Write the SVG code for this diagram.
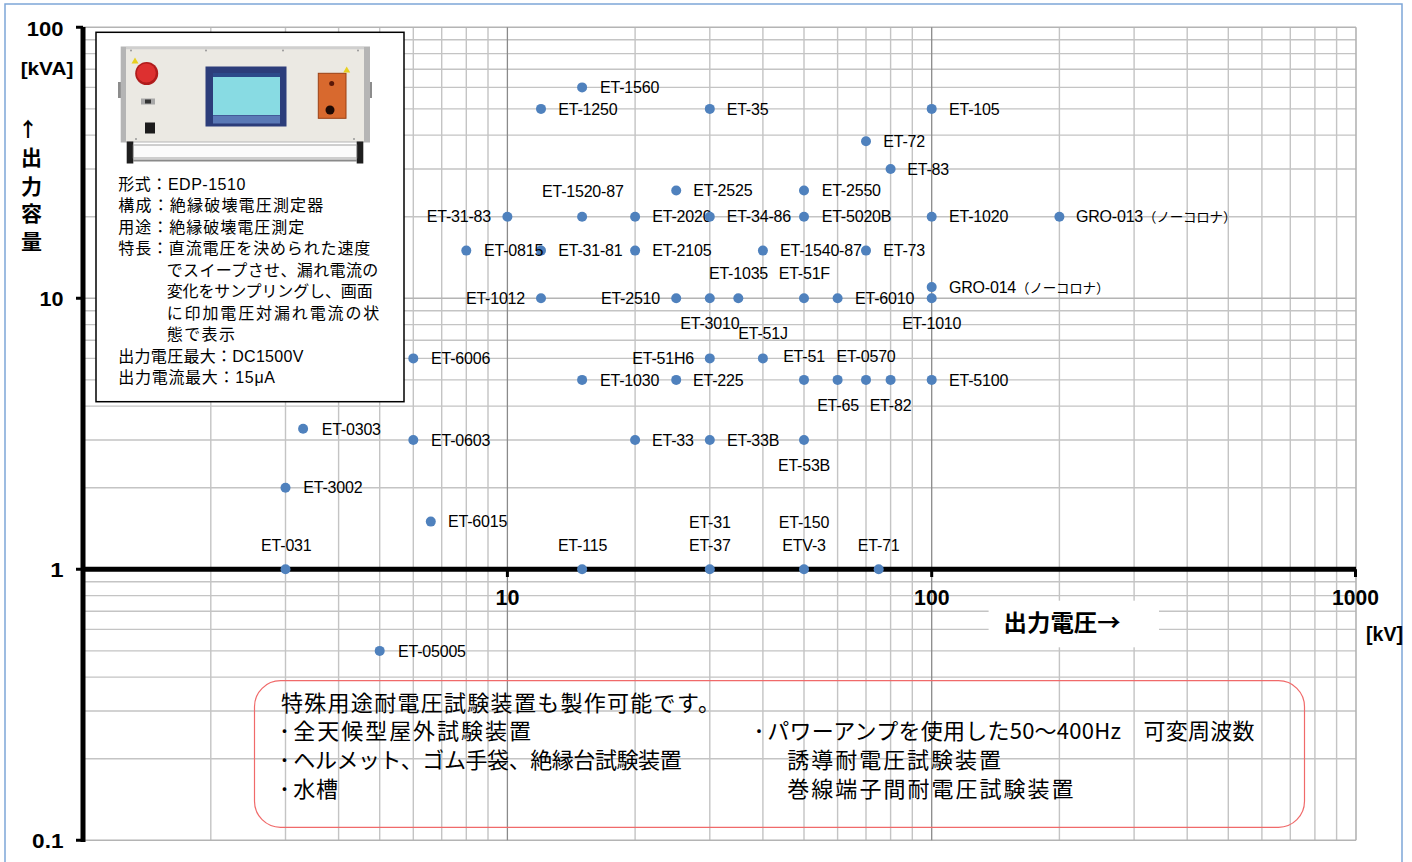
<svg xmlns="http://www.w3.org/2000/svg" width="1412" height="862" viewBox="0 0 1412 862">
<style>
.minor{stroke:#c4c4c4;stroke-width:1.4;fill:none}
.major{stroke:#8a8a8a;stroke-width:1.3;fill:none}
.axis{stroke:#000;stroke-width:5;fill:none}
.tick{stroke:#000;stroke-width:3;fill:none}
.dot{fill:#4f81bd}
.lb{font-family:"Liberation Sans","Noto Sans CJK JP",sans-serif;font-size:16px;fill:#000;letter-spacing:-0.2px}
.lb .jp{font-family:"Noto Sans CJK JP",sans-serif;font-size:13.5px}
.m{text-anchor:middle}
.e{text-anchor:end}
.ax{font-family:"Liberation Sans",sans-serif;font-weight:bold;fill:#000}
.jb{font-family:"Noto Sans CJK JP",sans-serif;font-weight:bold;fill:#000}
.bx{font-family:"Liberation Sans","Noto Sans CJK JP",sans-serif;font-size:16px;fill:#000}
.nt{font-family:"Noto Sans CJK JP",sans-serif;font-size:22px;fill:#000}
</style>
<rect x="0" y="0" width="1412" height="862" fill="#fff"/>
<path d="M5 870V4H1402V870" fill="none" stroke="#7ea6d8" stroke-width="1.5"/>

<g id="grid">
<path class="minor" d="M210.8 27.3V840.3M285.5 27.3V840.3M338.6 27.3V840.3M379.7 27.3V840.3M413.3 27.3V840.3M441.7 27.3V840.3M466.3 27.3V840.3M488 27.3V840.3M635.1 27.3V840.3M709.8 27.3V840.3M762.9 27.3V840.3M804 27.3V840.3M837.6 27.3V840.3M866 27.3V840.3M890.6 27.3V840.3M912.3 27.3V840.3M1059.4 27.3V840.3M1134.1 27.3V840.3M1187.2 27.3V840.3M1228.3 27.3V840.3M1261.9 27.3V840.3M1290.3 27.3V840.3M1314.9 27.3V840.3M1336.6 27.3V840.3"/>
<path class="minor" d="M83 216.7H1356M83 169H1356M83 135.1H1356M83 108.9H1356M83 87.4H1356M83 69.3H1356M83 53.6H1356M83 39.7H1356M83 487.7H1356M83 440H1356M83 406.1H1356M83 379.9H1356M83 358.4H1356M83 340.3H1356M83 324.6H1356M83 310.7H1356M83 758.7H1356M83 711H1356M83 677.1H1356M83 650.9H1356M83 629.4H1356M83 611.3H1356M83 595.6H1356M83 581.7H1356"/>
<path d="M83 27.3H1356M83 298.3H1356M1356 27.3V840.3M83 840.3H1356" stroke="#b4b4b4" stroke-width="1.6" fill="none"/>
<path class="major" d="M507.4 27.3V840.3M931.7 27.3V840.3"/>
</g>

<g id="axes">
<path class="axis" d="M83 27V842M81 569.3H1356"/>
<path class="tick" d="M76 27.3H83M76 298.3H83M76 569.3H83M76 840.3H83M507.4 569.3V577M931.7 569.3V577M1355.5 569.3V577"/>
<text class="ax" x="63.5" y="35.5" font-size="20" text-anchor="end" textLength="36.7" lengthAdjust="spacingAndGlyphs">100</text>
<text class="ax" x="63.5" y="305.5" font-size="20" text-anchor="end" textLength="24" lengthAdjust="spacingAndGlyphs">10</text>
<text class="ax" x="63.5" y="576.5" font-size="20" text-anchor="end" textLength="13.3" lengthAdjust="spacingAndGlyphs">1</text>
<text class="ax" x="63.5" y="847.5" font-size="20" text-anchor="end" textLength="31.4" lengthAdjust="spacingAndGlyphs">0.1</text>
<text class="ax" x="20.7" y="75" font-size="18" textLength="52.6" lengthAdjust="spacingAndGlyphs">[kVA]</text>
<text class="jb" x="28" y="137" font-size="20" text-anchor="middle">↑</text>
<text class="jb" x="31.5" y="165" font-size="21" text-anchor="middle">出</text>
<text class="jb" x="31.5" y="193.5" font-size="21" text-anchor="middle">力</text>
<text class="jb" x="31.5" y="220.5" font-size="21" text-anchor="middle">容</text>
<text class="jb" x="31.5" y="248.5" font-size="21" text-anchor="middle">量</text>
<text class="ax" x="507.6" y="605" font-size="22" text-anchor="middle" textLength="24" lengthAdjust="spacingAndGlyphs">10</text>
<text class="ax" x="931.8" y="605" font-size="22" text-anchor="middle" textLength="35.5" lengthAdjust="spacingAndGlyphs">100</text>
<text class="ax" x="1355.5" y="605" font-size="22" text-anchor="middle" textLength="46.8" lengthAdjust="spacingAndGlyphs">1000</text>
<rect x="988.6" y="600.7" width="170.4" height="46.6" fill="#fff"/>
<text class="jb" x="1003.6" y="631" font-size="23" textLength="117" lengthAdjust="spacingAndGlyphs">出力電圧→</text>
<text class="ax" x="1366" y="641" font-size="20" textLength="37" lengthAdjust="spacingAndGlyphs">[kV]</text>
</g>

<g id="info-box">
<rect x="96" y="32.3" width="308" height="369.4" fill="#fff" stroke="#000" stroke-width="1.5"/>
<g id="device-photo">
<rect x="118" y="82" width="4" height="16" fill="#8c8c8c"/>
<rect x="368" y="82" width="4" height="16" fill="#8c8c8c"/>
<rect x="120.7" y="46.5" width="249.3" height="96" fill="#b5b5b5"/>
<rect x="126" y="47.5" width="238" height="94" fill="#ebe9e3"/>
<path d="M126 48.5H364" stroke="#cfcfcf" stroke-width="1.5"/>
<circle cx="131" cy="50.5" r="1" fill="#999"/><circle cx="206" cy="50.5" r="1" fill="#999"/><circle cx="283" cy="50.5" r="1" fill="#999"/><circle cx="358" cy="50.5" r="1" fill="#999"/>
<circle cx="136" cy="139" r="1" fill="#999"/><circle cx="354" cy="139" r="1" fill="#999"/>
<polygon points="135,57.5 131.5,63.5 138.5,63.5" fill="#e8d020"/>
<circle cx="146.7" cy="73.5" r="11.5" fill="#b01c1c"/>
<circle cx="146.3" cy="73" r="9.5" fill="#dd3030"/>
<rect x="141" y="98.5" width="14" height="6" fill="#a8a8a8"/>
<rect x="145" y="99.5" width="6" height="4" fill="#333"/>
<rect x="145" y="122.5" width="10" height="11" fill="#1c1c1c"/>
<rect x="205.5" y="66.5" width="81" height="60" fill="#2c3d7a"/>
<rect x="213" y="73" width="67" height="42" fill="#88dbe3"/>
<rect x="213" y="115.5" width="67" height="8" fill="#5a79b6"/>
<rect x="213" y="73" width="67" height="4" fill="#2c4a8a"/>
<rect x="318.3" y="73.3" width="27.7" height="45" fill="#d8692e" stroke="#9a4014" stroke-width="1"/>
<circle cx="331.7" cy="83.5" r="2.5" fill="#5a1808"/>
<circle cx="330" cy="110" r="4.5" fill="#1e0a05"/>
<polygon points="346.7,66.5 343.2,72.5 350.2,72.5" fill="#e8d020"/>
<rect x="126.7" y="141.5" width="6.6" height="22" fill="#1e1e1e"/>
<rect x="356.7" y="141.5" width="6.6" height="22" fill="#1e1e1e"/>
<rect x="133.3" y="145" width="223.4" height="13" fill="#fbfbfb" stroke="#a0a0a0" stroke-width="1"/>
<path d="M133 160.5H357" stroke="#8a8a8a" stroke-width="2"/>
</g>
<text class="bx" x="118.3" y="189.5" textLength="127" lengthAdjust="spacing">形式：EDP-1510</text>
<text class="bx" x="118.3" y="211" textLength="205" lengthAdjust="spacing">構成：絶縁破壊電圧測定器</text>
<text class="bx" x="118.3" y="232.5" textLength="186" lengthAdjust="spacing">用途：絶縁破壊電圧測定</text>
<text class="bx" x="118.3" y="254" textLength="252" lengthAdjust="spacing">特長：直流電圧を決められた速度</text>
<text class="bx" x="166.7" y="275.5" textLength="211.6" lengthAdjust="spacing">でスイープさせ、漏れ電流の</text>
<text class="bx" x="166.7" y="297" textLength="206" lengthAdjust="spacing">変化をサンプリングし、画面</text>
<text class="bx" x="166.7" y="318.5" textLength="212.6" lengthAdjust="spacing">に印加電圧対漏れ電流の状</text>
<text class="bx" x="166.7" y="340" textLength="68.3" lengthAdjust="spacing">態で表示</text>
<text class="bx" x="118.3" y="361.5" textLength="185" lengthAdjust="spacing">出力電圧最大：DC1500V</text>
<text class="bx" x="118.3" y="383" textLength="156.7" lengthAdjust="spacing">出力電流最大：15μA</text>
</g>

<g id="note-box">
<rect x="254.5" y="680.7" width="1050" height="146.6" rx="26" ry="26" fill="none" stroke="#f06a6a" stroke-width="1.2"/>
<text class="nt" x="281" y="711" textLength="439" lengthAdjust="spacing">特殊用途耐電圧試験装置も製作可能です。</text>
<text class="nt" x="284.4" y="739" text-anchor="middle">･</text>
<text class="nt" x="293.3" y="739" textLength="237.7" lengthAdjust="spacing">全天候型屋外試験装置</text>
<text class="nt" x="284.4" y="767.5" text-anchor="middle">･</text>
<text class="nt" x="293.3" y="767.5" textLength="388.4" lengthAdjust="spacing">ヘルメット、ゴム手袋、絶縁台試験装置</text>
<text class="nt" x="284.4" y="797" text-anchor="middle">･</text>
<text class="nt" x="293.3" y="797" textLength="44.7" lengthAdjust="spacing">水槽</text>
<text class="nt" x="759" y="739" text-anchor="middle">･</text>
<text class="nt" x="767.3" y="739" textLength="487.2" lengthAdjust="spacing">パワーアンプを使用した50～400Hz　可変周波数</text>
<text class="nt" x="787.3" y="767.5" textLength="213.7" lengthAdjust="spacing">誘導耐電圧試験装置</text>
<text class="nt" x="787.3" y="797" textLength="286.3" lengthAdjust="spacing">巻線端子間耐電圧試験装置</text>
</g>

<g id="points">
<g id="p-ET-1560"><circle class="dot" cx="582.1" cy="87.4" r="5"/><text class="lb" x="600" y="93.1">ET-1560</text></g>
<g id="p-ET-1250"><circle class="dot" cx="541" cy="108.9" r="5"/><text class="lb" x="558.3" y="114.6">ET-1250</text></g>
<g id="p-ET-35"><circle class="dot" cx="709.8" cy="108.9" r="5"/><text class="lb" x="726.7" y="114.6">ET-35</text></g>
<g id="p-ET-105"><circle class="dot" cx="931.7" cy="108.9" r="5"/><text class="lb" x="949" y="114.6">ET-105</text></g>
<g id="p-ET-72"><circle class="dot" cx="866" cy="141.2" r="5"/><text class="lb" x="883.3" y="146.9">ET-72</text></g>
<g id="p-ET-83"><circle class="dot" cx="890.6" cy="169" r="5"/><text class="lb" x="907.3" y="174.7">ET-83</text></g>
<g id="p-ET-2525"><circle class="dot" cx="676.2" cy="190.5" r="5"/><text class="lb" x="693.3" y="196.2">ET-2525</text></g>
<g id="p-ET-2550"><circle class="dot" cx="804" cy="190.5" r="5"/><text class="lb" x="821.7" y="196.2">ET-2550</text></g>
<g id="p-ET-31-83"><circle class="dot" cx="507.4" cy="216.7" r="5"/><text class="lb e" x="491" y="222.4">ET-31-83</text></g>
<g id="p-ET-1520-87"><circle class="dot" cx="582.1" cy="216.7" r="5"/><text class="lb m" x="582.8" y="197.4">ET-1520-87</text></g>
<g id="p-ET-2020"><circle class="dot" cx="635.1" cy="216.7" r="5"/><text class="lb" x="652.3" y="222.4">ET-2020</text></g>
<g id="p-ET-34-86"><circle class="dot" cx="709.8" cy="216.7" r="5"/><text class="lb" x="726.7" y="222.4">ET-34-86</text></g>
<g id="p-ET-5020B"><circle class="dot" cx="804" cy="216.7" r="5"/><text class="lb" x="821.7" y="222.4">ET-5020B</text></g>
<g id="p-ET-1020"><circle class="dot" cx="931.7" cy="216.7" r="5"/><text class="lb" x="949" y="222.4">ET-1020</text></g>
<g id="p-GRO-013"><circle class="dot" cx="1059.4" cy="216.7" r="5"/><text class="lb" x="1076" y="222.4">GRO-013<tspan class="jp">（ノーコロナ）</tspan></text></g>
<g id="p-ET-0815"><circle class="dot" cx="466.3" cy="250.6" r="5"/><circle class="dot" cx="541" cy="250.6" r="5"/><text class="lb" x="484" y="256.3">ET-0815</text></g>
<g id="p-ET-31-81"><text class="lb" x="558.3" y="256.3">ET-31-81</text></g>
<g id="p-ET-2105"><circle class="dot" cx="635.1" cy="250.6" r="5"/><text class="lb" x="652.3" y="256.3">ET-2105</text></g>
<g id="p-ET-1540-87"><circle class="dot" cx="762.9" cy="250.6" r="5"/><circle class="dot" cx="866" cy="250.6" r="5"/><text class="lb" x="780" y="256.3">ET-1540-87</text></g>
<g id="p-ET-73"><text class="lb" x="883.3" y="256.3">ET-73</text></g>
<g id="p-GRO-014"><circle class="dot" cx="931.7" cy="287.1" r="5"/><text class="lb" x="949" y="292.8">GRO-014<tspan class="jp">（ノーコロナ）</tspan></text></g>
<g id="p-ET-1012"><circle class="dot" cx="541" cy="298.3" r="5"/><text class="lb e" x="525" y="304">ET-1012</text></g>
<g id="p-ET-2510"><circle class="dot" cx="676.2" cy="298.3" r="5"/><text class="lb e" x="660" y="304">ET-2510</text></g>
<g id="p-ET-3010"><circle class="dot" cx="709.8" cy="298.3" r="5"/><text class="lb m" x="709.8" y="328.7">ET-3010</text></g>
<g id="p-ET-1035"><circle class="dot" cx="738.3" cy="298.3" r="5"/><text class="lb m" x="738.5" y="279">ET-1035</text></g>
<g id="p-ET-51F"><circle class="dot" cx="804" cy="298.3" r="5"/><text class="lb m" x="804.3" y="279">ET-51F</text></g>
<g id="p-ET-6010"><circle class="dot" cx="837.6" cy="298.3" r="5"/><text class="lb" x="855" y="304">ET-6010</text></g>
<g id="p-ET-1010"><circle class="dot" cx="931.7" cy="298.3" r="5"/><text class="lb m" x="931.7" y="329">ET-1010</text></g>
<g id="p-ET-6006"><circle class="dot" cx="413.3" cy="358.4" r="5"/><text class="lb" x="431" y="364.1">ET-6006</text></g>
<g id="p-ET-51H6"><circle class="dot" cx="709.8" cy="358.4" r="5"/><text class="lb e" x="694" y="364.1">ET-51H6</text></g>
<g id="p-ET-51J"><circle class="dot" cx="762.9" cy="358.4" r="5"/><text class="lb m" x="763" y="338.7">ET-51J</text></g>
<g id="p-ET-1030"><circle class="dot" cx="582.1" cy="379.9" r="5"/><text class="lb" x="600" y="385.6">ET-1030</text></g>
<g id="p-ET-225"><circle class="dot" cx="676.2" cy="379.9" r="5"/><text class="lb" x="693" y="385.6">ET-225</text></g>
<g id="p-ET-51"><circle class="dot" cx="804" cy="379.9" r="5"/><text class="lb m" x="804" y="361.7">ET-51</text></g>
<g id="p-ET-65"><circle class="dot" cx="837.6" cy="379.9" r="5"/><text class="lb m" x="838" y="410.7">ET-65</text></g>
<g id="p-ET-0570"><circle class="dot" cx="866" cy="379.9" r="5"/><text class="lb m" x="866" y="361.7">ET-0570</text></g>
<g id="p-ET-82"><circle class="dot" cx="890.6" cy="379.9" r="5"/><text class="lb m" x="890.5" y="410.7">ET-82</text></g>
<g id="p-ET-5100"><circle class="dot" cx="931.7" cy="379.9" r="5"/><text class="lb" x="949" y="385.6">ET-5100</text></g>
<g id="p-ET-0303"><circle class="dot" cx="303.1" cy="428.8" r="5"/><text class="lb" x="321.7" y="434.5">ET-0303</text></g>
<g id="p-ET-0603"><circle class="dot" cx="413.3" cy="440" r="5"/><text class="lb" x="431" y="445.7">ET-0603</text></g>
<g id="p-ET-33"><circle class="dot" cx="635.1" cy="440" r="5"/><text class="lb" x="652" y="445.7">ET-33</text></g>
<g id="p-ET-33B"><circle class="dot" cx="709.8" cy="440" r="5"/><text class="lb" x="727" y="445.7">ET-33B</text></g>
<g id="p-ET-53B"><circle class="dot" cx="804" cy="440" r="5"/><text class="lb m" x="804" y="471.4">ET-53B</text></g>
<g id="p-ET-3002"><circle class="dot" cx="285.5" cy="487.7" r="5"/><text class="lb" x="303.3" y="493.4">ET-3002</text></g>
<g id="p-ET-6015"><circle class="dot" cx="430.8" cy="521.6" r="5"/><text class="lb" x="448" y="527.3">ET-6015</text></g>
<g id="p-ET-031"><circle class="dot" cx="285.5" cy="569.3" r="5"/><text class="lb m" x="286.3" y="551.4">ET-031</text></g>
<g id="p-ET-115"><circle class="dot" cx="582.1" cy="569.3" r="5"/><text class="lb m" x="582.5" y="550.7">ET-115</text></g>
<g id="p-ET-31"><circle class="dot" cx="709.8" cy="569.3" r="5"/><text class="lb m" x="709.8" y="528.4">ET-31</text><text class="lb m" x="709.8" y="550.7">ET-37</text></g>
<g id="p-ET-150"><circle class="dot" cx="804" cy="569.3" r="5"/><text class="lb m" x="804" y="528.4">ET-150</text><text class="lb m" x="804" y="550.7">ETV-3</text></g>
<g id="p-ET-71"><circle class="dot" cx="878.7" cy="569.3" r="5"/><text class="lb m" x="878.7" y="550.7">ET-71</text></g>
<g id="p-ET-05005"><circle class="dot" cx="379.7" cy="650.9" r="5"/><text class="lb" x="398" y="656.6">ET-05005</text></g>
</g>
</svg>
